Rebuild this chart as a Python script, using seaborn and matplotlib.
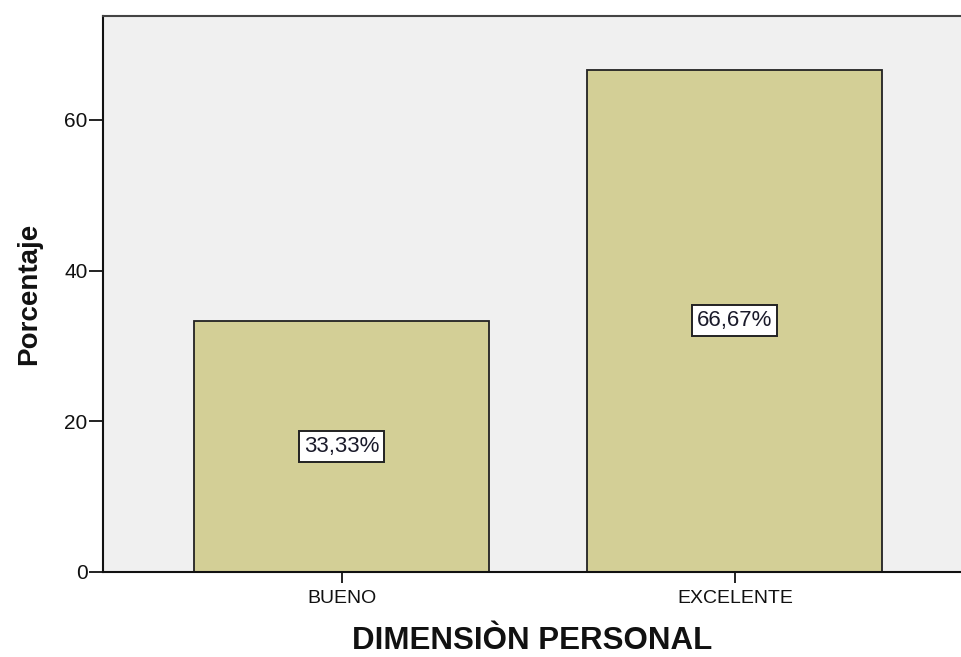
import matplotlib
matplotlib.use("Agg")
import matplotlib.pyplot as plt
import seaborn as sns
import pandas as pd

categories = ["BUENO", "EXCELENTE"]
percentages = [33.33, 66.67]
value_labels = ["33,33%", "66,67%"]
y_ticks = [0, 20, 40, 60]

sns.set_style("white")
plt.rcParams['font.family'] = ['Liberation Sans', 'DejaVu Sans']

df = pd.DataFrame({"cat": categories, "pct": percentages})

fig = plt.figure(figsize=(9.62, 6.57), dpi=100)
ax = fig.add_axes([0.107, 0.1294, 0.893, 0.8462])
ax.set_facecolor("#f0f0f0")

sns.barplot(data=df, x="cat", y="pct", ax=ax, color="#d3cf96", saturation=1,
            width=0.75, edgecolor="#222222", linewidth=1.3)

ax.set_xlim(-0.608, 1.578)
ax.set_ylim(0, 73.8)
ax.set_yticks(y_ticks)
ax.set_yticklabels([str(t) for t in y_ticks])

for i, (v, lab) in enumerate(zip(percentages, value_labels)):
    ax.text(i, v / 2, lab, ha="center", va="center", fontsize=16, color="#1a1a2a",
            bbox=dict(boxstyle="square,pad=0.22", facecolor="white", edgecolor="#222222", linewidth=1.4))

ax.set_xlabel("DIMENSIÒN PERSONAL", fontsize=22.5, fontweight="bold", labelpad=14, color="#111111")
ax.set_ylabel("Porcentaje", fontsize=20, fontweight="bold", labelpad=16, color="#111111")

ax.tick_params(axis="y", direction="out", length=10, width=1.3, color="#111111",
               left=True, labelsize=15, pad=1, labelcolor="#111111")
ax.tick_params(axis="x", direction="out", length=8, width=1.3, color="#111111",
               bottom=True, labelsize=14, pad=5, labelcolor="#111111")

for side in ["left", "bottom"]:
    ax.spines[side].set_color("#111111")
    ax.spines[side].set_linewidth(1.5)
ax.spines["top"].set_color("#444444")
ax.spines["top"].set_linewidth(1.5)
ax.spines["right"].set_visible(False)

fig.savefig("out.png", dpi=100, facecolor="white")
